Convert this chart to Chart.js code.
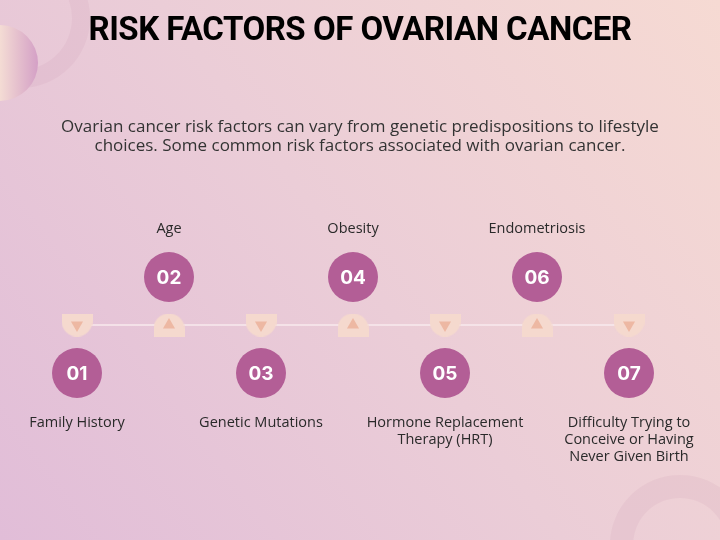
<!DOCTYPE html>
<html>
<head>
<meta charset="utf-8">
<title>Risk Factors of Ovarian Cancer</title>
<script src="https://cdn.jsdelivr.net/npm/chart.js@4.4.1/dist/chart.umd.min.js"></script>
<style>
html, body { margin: 0; padding: 0; background: #eccfd8; }
canvas { display: block; }
</style>
</head>
<body>
<canvas id="risk-chart" width="720" height="540"></canvas>
<script>
var title = 'RISK FACTORS OF OVARIAN CANCER';
var subtitle = [
    'Ovarian cancer risk factors can vary from genetic predispositions to lifestyle',
    'choices. Some common risk factors associated with ovarian cancer.'
];
var steps = [1, 2, 3, 4, 5, 6, 7];
var numbers = ['01', '02', '03', '04', '05', '06', '07'];
var factors = [
    ['Family History'],
    ['Age'],
    ['Genetic Mutations'],
    ['Obesity'],
    ['Hormone Replacement', 'Therapy (HRT)'],
    ['Endometriosis'],
    ['Difficulty Trying to', 'Conceive or Having', 'Never Given Birth']
];

var PLUM = '#b35e96';
var PEACH = '#f5d9ce';
var PEACH_DARK = '#edb8a3';

// even steps sit above the timeline, odd ones below
var side = function (i) {
    return i % 2 === 1 ? 1 : -1;
}

var makeTab = function (up) {
    var c = document.createElement('canvas');
    c.width = 31;
    c.height = 23;
    var g = c.getContext('2d');
    g.fillStyle = PEACH;
    g.beginPath();
    if (up) {
        g.moveTo(0, 23);
        g.lineTo(0, 15.5);
        g.arc(15.5, 15.5, 15.5, Math.PI, 0);
        g.lineTo(31, 23);
    } else {
        g.moveTo(0, 0);
        g.lineTo(31, 0);
        g.lineTo(31, 7.5);
        g.arc(15.5, 7.5, 15.5, 0, Math.PI);
    }
    g.closePath();
    g.fill();
    return c;
}
var tabUp = makeTab(true);
var tabDown = makeTab(false);

var backdrop = {
    id: 'backdrop',
    beforeDraw: function (chart) {
        var ctx = chart.ctx;
        var w = chart.width, h = chart.height;
        ctx.save();
        var bg = ctx.createLinearGradient(0, h, w, 0);
        bg.addColorStop(0, '#e1bdd8');
        bg.addColorStop(0.5, '#ebcdd7');
        bg.addColorStop(1, '#f6dad3');
        ctx.fillStyle = bg;
        ctx.fillRect(0, 0, w, h);

        // faint rings
        ctx.fillStyle = 'rgba(190, 130, 160, 0.10)';
        ctx.beginPath();
        ctx.arc(20, 18, 70, 0, Math.PI * 2);
        ctx.arc(20, 18, 52, 0, Math.PI * 2, true);
        ctx.fill();
        ctx.beginPath();
        ctx.arc(680, 545, 70, 0, Math.PI * 2);
        ctx.arc(680, 545, 47, 0, Math.PI * 2, true);
        ctx.fill();

        // half disc on the left edge
        var hg = ctx.createLinearGradient(0, 0, 38, 0);
        hg.addColorStop(0, '#f4dcd4');
        hg.addColorStop(1, '#d4a0c6');
        ctx.fillStyle = hg;
        ctx.beginPath();
        ctx.arc(0, 63, 38, -Math.PI / 2, Math.PI / 2);
        ctx.closePath();
        ctx.fill();
        ctx.restore();
    }
};

var texts = {
    id: 'texts',
    afterDraw: function (chart) {
        var ctx = chart.ctx;
        var y = chart.scales.y;
        ctx.save();
        ctx.textAlign = 'center';
        ctx.textBaseline = 'middle';

        ctx.fillStyle = '#000';
        ctx.font = 'bold 33px Roboto';
        ctx.letterSpacing = '-0.5px';
        ctx.fillText(title, 360, 32);
        ctx.letterSpacing = '0px';

        ctx.fillStyle = '#333';
        ctx.font = '17px "Open Sans"';
        subtitle.forEach(function (line, k) {
            ctx.fillText(line, 360, 127 + k * 19);
        });

        var circles = chart.getDatasetMeta(3).data;
        ctx.fillStyle = '#fff';
        ctx.font = 'bold 19px Inter';
        circles.forEach(function (pt, i) {
            ctx.fillText(numbers[i], pt.x, pt.y + 1);
        });

        ctx.fillStyle = '#2a2a2a';
        ctx.font = '14.5px "Open Sans"';
        circles.forEach(function (pt, i) {
            var top = y.getPixelForValue(side(i) * 2) + (side(i) < 0 ? 2 : 0);
            factors[i].forEach(function (line, k) {
                ctx.fillText(line, pt.x, top + k * 17);
            });
        });
        ctx.restore();
    }
};

var riskChart = new Chart(document.getElementById('risk-chart'), {
    type: 'scatter',
    data: {
        datasets: [{
            type: 'line',
            data: [{ x: steps[0], y: 0 }, { x: steps[steps.length - 1], y: 0 }],
            borderColor: '#f8eaee',
            borderWidth: 1.5,
            pointRadius: 0,
            showLine: true,
            order: 4
        }, {
            data: steps.map(function (s) { return { x: s, y: 0 }; }),
            pointStyle: function (c) { return side(c.dataIndex) > 0 ? tabUp : tabDown; },
            order: 3
        }, {
            data: steps.map(function (s) { return { x: s, y: 0 }; }),
            pointStyle: 'triangle',
            pointRadius: 7,
            rotation: function (c) { return side(c.dataIndex) > 0 ? 0 : 180; },
            backgroundColor: PEACH_DARK,
            borderWidth: 0,
            order: 2
        }, {
            data: steps.map(function (s, i) { return { x: s, y: side(i) }; }),
            pointRadius: 25,
            backgroundColor: PLUM,
            borderWidth: 0,
            order: 1
        }]
    },
    options: {
        responsive: false,
        animation: false,
        events: [],
        layout: { padding: 0, autoPadding: false },
        plugins: { legend: { display: false }, tooltip: { enabled: false } },
        scales: {
            x: { type: 'linear', display: false, min: 1 - 77 / 92, max: 1 - 77 / 92 + 720 / 92 },
            y: { type: 'linear', display: false, min: -215 / 48, max: 325 / 48 }
        }
    },
    plugins: [backdrop, texts]
});
</script>
</body>
</html>
